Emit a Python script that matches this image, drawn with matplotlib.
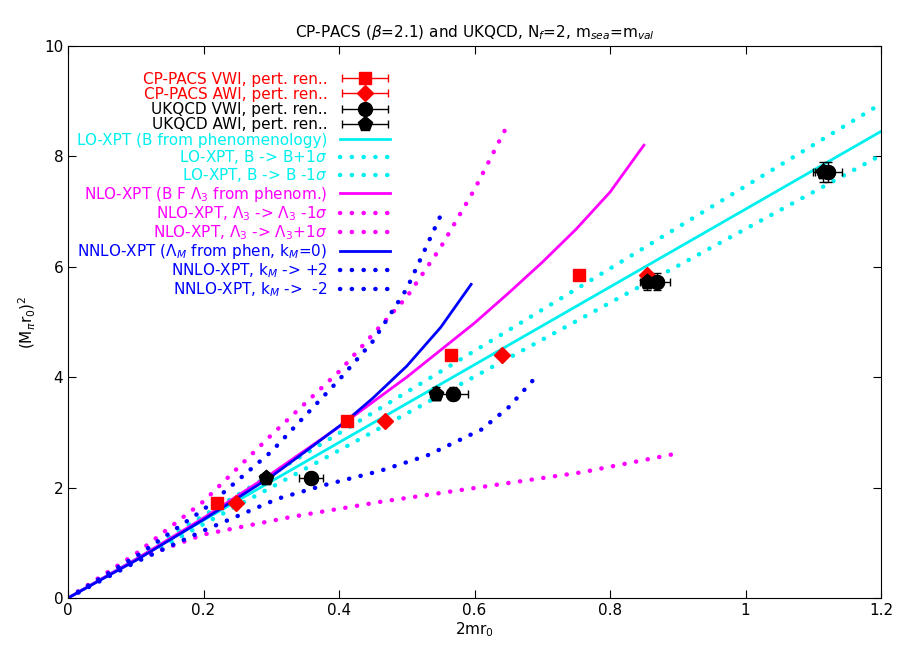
import matplotlib
matplotlib.use("Agg")
import matplotlib.pyplot as plt
from matplotlib.legend_handler import HandlerErrorbar
from matplotlib.container import ErrorbarContainer

cp_vwi_x = [0.220, 0.412, 0.565, 0.754]
cp_vwi_y = [1.72, 3.20, 4.40, 5.85]
cp_awi_x = [0.248, 0.468, 0.641, 0.855]
cp_awi_y = [1.72, 3.20, 4.40, 5.85]
uk_vwi_x = [0.359, 0.568, 0.869, 1.122]
uk_vwi_y = [2.18, 3.70, 5.73, 7.72]
uk_vwi_xe = [0.018, 0.022, 0.020, 0.020]
uk_vwi_ye = [0.05, 0.12, 0.15, 0.18]
uk_awi_x = [0.292, 0.543, 0.854, 1.114]
uk_awi_y = [2.18, 3.70, 5.73, 7.72]
uk_awi_xe = [0.008, 0.008, 0.010, 0.015]
uk_awi_ye = [0.05, 0.12, 0.15, 0.18]

lo_x = [0.0, 1.2]; lo_y = [0.0, 8.45]
lo_p_x = [0.0, 1.2]; lo_p_y = [0.0, 8.95]
lo_m_x = [0.0, 1.2]; lo_m_y = [0.0, 8.02]
nlo_x = [0.0, 0.1, 0.2, 0.3, 0.4, 0.5, 0.6, 0.65, 0.7, 0.75, 0.8, 0.85]
nlo_y = [0.0, 0.70, 1.45, 2.25, 3.10, 4.0, 4.98, 5.52, 6.08, 6.68, 7.35, 8.2]
nlo_m_x = [0.0, 0.1, 0.2, 0.3, 0.4, 0.5, 0.55, 0.6, 0.646]
nlo_m_y = [0.0, 0.80, 1.75, 2.95, 4.10, 5.45, 6.35, 7.4, 8.5]
nlo_p_x = [0.0, 0.1, 0.2, 0.33, 0.46, 0.61, 0.76, 0.9]
nlo_p_y = [0.0, 0.70, 1.15, 1.47, 1.74, 2.01, 2.28, 2.62]
nnlo_x = [0.0, 0.1, 0.2, 0.3, 0.35, 0.41, 0.45, 0.5, 0.55, 0.595]
nnlo_y = [0.0, 0.68, 1.42, 2.2, 2.65, 3.20, 3.62, 4.2, 4.9, 5.68]
nnlo_p_x = [0.0, 0.1, 0.2, 0.3, 0.4, 0.45, 0.5, 0.549]
nnlo_p_y = [0.0, 0.75, 1.6, 2.65, 3.95, 4.65, 5.6, 6.9]
nnlo_m_x = [0.0, 0.1, 0.2, 0.31, 0.38, 0.46, 0.53, 0.61, 0.65, 0.692]
nnlo_m_y = [0.0, 0.65, 1.22, 1.80, 2.05, 2.30, 2.58, 3.05, 3.45, 4.02]

fig = plt.figure(figsize=(9.13, 6.54), dpi=100)
ax = fig.add_axes([0.0745, 0.0856, 0.8905, 0.8444])

dot = dict(linestyle=(0, (0.05, 2.6)), dash_capstyle='round', lw=3.2)
ax.plot(lo_x, lo_y, color='#00f0f0', lw=2, label='LO-XPT (B from phenomenology)')
ax.plot(lo_p_x, lo_p_y, color='#00f0f0', label=r'LO-XPT, B -> B+1$\sigma$', **dot)
ax.plot(lo_m_x, lo_m_y, color='#00f0f0', label=r'LO-XPT, B -> B -1$\sigma$', **dot)
ax.plot(nlo_x, nlo_y, color='#ff00ff', lw=2, label=r'NLO-XPT (B F $\Lambda_3$ from phenom.)')
ax.plot(nlo_m_x, nlo_m_y, color='#ff00ff', label=r'NLO-XPT, $\Lambda_3$ -> $\Lambda_3$ -1$\sigma$', **dot)
ax.plot(nlo_p_x, nlo_p_y, color='#ff00ff', label=r'NLO-XPT, $\Lambda_3$ -> $\Lambda_3$+1$\sigma$', **dot)
ax.plot(nnlo_x, nnlo_y, color='#0000ff', lw=2, label=r'NNLO-XPT ($\Lambda_M$ from phen, k$_M$=0)')
ax.plot(nnlo_p_x, nnlo_p_y, color='#0000ff', label=r'NNLO-XPT, k$_M$ -> +2', **dot)
ax.plot(nnlo_m_x, nnlo_m_y, color='#0000ff', label=r'NNLO-XPT, k$_M$ ->  -2', **dot)

eb = dict(linestyle='none', capsize=3, elinewidth=1, zorder=5)
ax.errorbar(cp_vwi_x, cp_vwi_y, xerr=0.0, color='red', marker='s', ms=9, label='CP-PACS VWI, pert. ren..', **eb)
ax.errorbar(cp_awi_x, cp_awi_y, xerr=0.0, color='red', marker='D', ms=8, label='CP-PACS AWI, pert. ren..', **eb)
ax.errorbar(uk_vwi_x, uk_vwi_y, yerr=uk_vwi_ye, color='black', marker='o', ms=10, **eb)
ax.errorbar(uk_awi_x, uk_awi_y, yerr=uk_awi_ye, color='black', marker='p', ms=11, **eb)
ax.errorbar(uk_vwi_x, uk_vwi_y, xerr=uk_vwi_xe, color='black', marker='o', ms=10, label='UKQCD VWI, pert. ren..', **eb)
ax.errorbar(uk_awi_x, uk_awi_y, xerr=uk_awi_xe, color='black', marker='p', ms=11, label='UKQCD AWI, pert. ren..', **eb)

ax.set_xlim(0, 1.2)
ax.set_ylim(0, 10)
ax.set_xticks([0, 0.2, 0.4, 0.6, 0.8, 1, 1.2])
ax.set_xticklabels(['0', '0.2', '0.4', '0.6', '0.8', '1', '1.2'])
ax.set_yticks([0, 2, 4, 6, 8, 10])
ax.tick_params(direction='in', top=True, right=True, labelsize=11, length=6)
ax.set_xlabel(r'2mr$_0$', fontsize=11, labelpad=2)
ax.set_ylabel(r'(M$_\pi$r$_0$)$^2$', fontsize=11)
ax.set_title(r'CP-PACS ($\beta$=2.1) and UKQCD, N$_f$=2, m$_{sea}$=m$_{val}$', fontsize=11)

handles, labels = ax.get_legend_handles_labels()
order = list(range(9, 13)) + list(range(0, 9))
cols = ['red', 'red', 'black', 'black', '#00f0f0', '#00f0f0', '#00f0f0', '#ff00ff', '#ff00ff', '#ff00ff', '#0000ff', '#0000ff', '#0000ff']
leg = ax.legend([handles[i] for i in order], [labels[i] for i in order], loc='upper left',
                bbox_to_anchor=(0.0, 0.97), markerfirst=False, frameon=False, fontsize=11,
                labelspacing=0.02, handlelength=3.3, handletextpad=0.8, borderaxespad=0.2,
                handler_map={ErrorbarContainer: HandlerErrorbar(xerr_size=1.5)})
for t, c in zip(leg.get_texts(), cols):
    t.set_color(c)
    t.set_ha('right')
leg._legend_box.align = 'right'
for vp in leg._legend_handle_box.get_children():
    vp.align = 'right'

fig.savefig('out.png', dpi=100)
